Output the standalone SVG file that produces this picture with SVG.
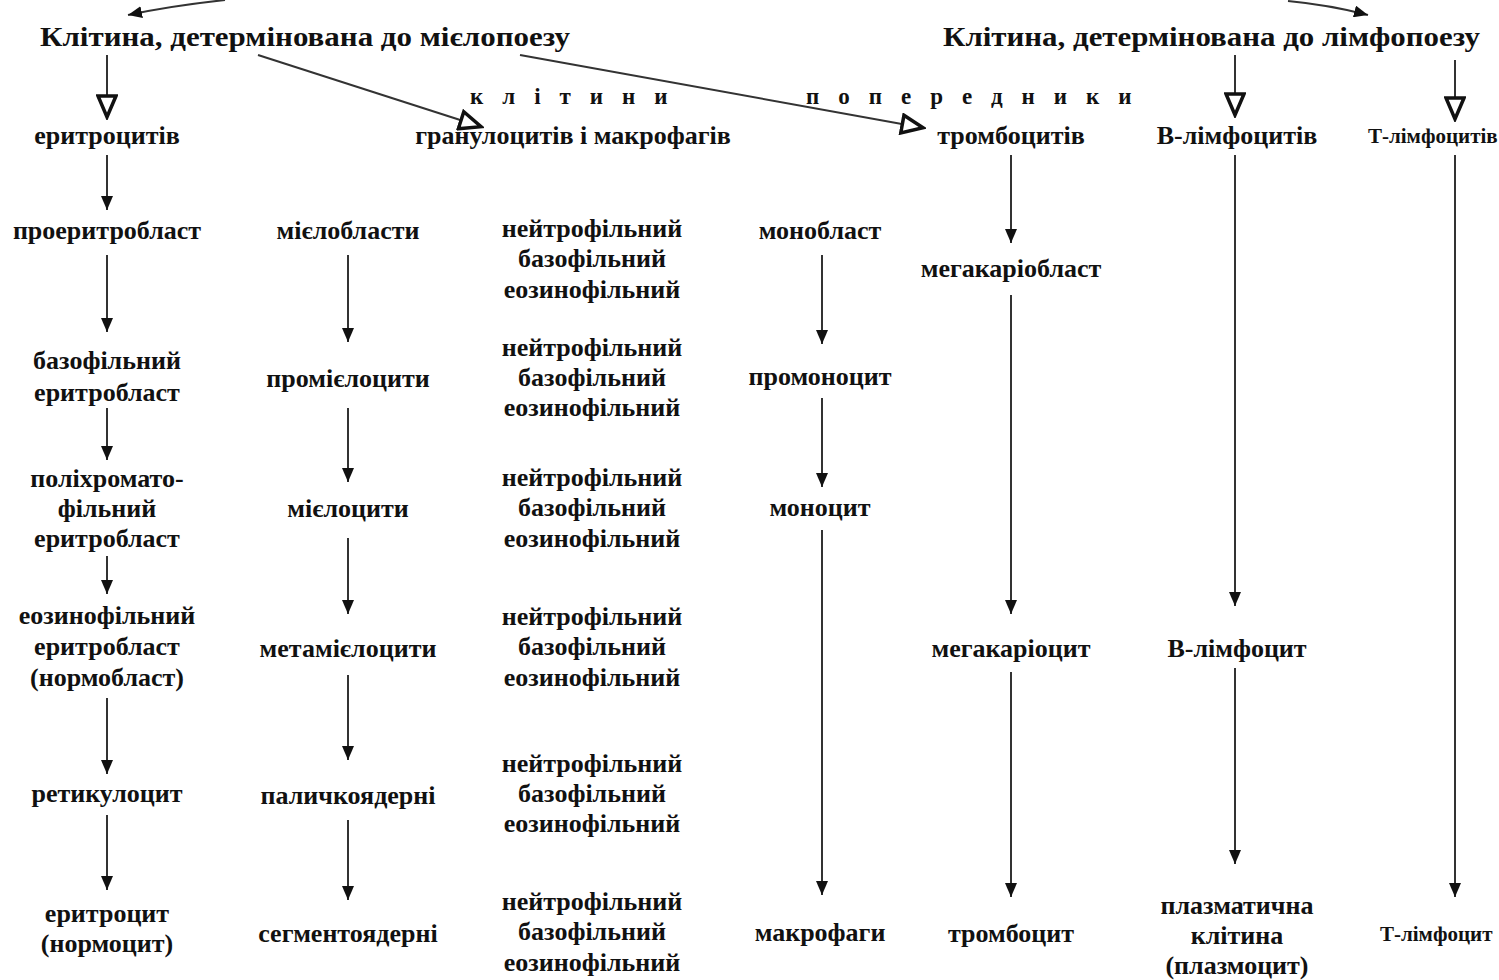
<svg xmlns="http://www.w3.org/2000/svg" width="1499" height="980" viewBox="0 0 1499 980">
<defs>
<style>
text{font-family:"Liberation Serif","DejaVu Serif",serif;font-weight:bold;fill:#111;text-anchor:middle;font-size:26px}
.title{font-size:27px;text-anchor:start}
.spaced{font-size:23px;text-anchor:start;letter-spacing:19px}
.edge{font-size:21px;text-anchor:start}
.c{stroke:#333;stroke-width:2;fill:none}
</style>
<marker id="ah" viewBox="0 0 14 12" refX="14" refY="6" markerWidth="14" markerHeight="12" markerUnits="userSpaceOnUse" orient="auto"><path d="M0,0 L14,6 L0,12 z" fill="#111"/></marker>
<marker id="hh" viewBox="0 0 26 22" refX="24" refY="11" markerWidth="26" markerHeight="22" markerUnits="userSpaceOnUse" orient="auto"><path d="M2,2 L23,11 L2,20 z" fill="#fff" stroke="#111" stroke-width="3.5" stroke-linejoin="miter"/></marker>
</defs>
<rect width="1499" height="980" fill="#fff"/>

<g id="connectors">
<path class="c" d="M225,0 Q170,6 128,15" marker-end="url(#ah)"/>
<path class="c" d="M1288,1 Q1330,5 1368,15" marker-end="url(#ah)"/>
<line class="c" x1="107" y1="55" x2="107" y2="118" marker-end="url(#hh)"/>
<line class="c" x1="258" y1="55" x2="482" y2="127" marker-end="url(#hh)"/>
<line class="c" x1="520" y1="55" x2="924" y2="128" marker-end="url(#hh)"/>
<line class="c" x1="1235" y1="55" x2="1235" y2="116" marker-end="url(#hh)"/>
<line class="c" x1="1455" y1="60" x2="1455" y2="120" marker-end="url(#hh)"/>
<line class="c" x1="107" y1="155" x2="107" y2="210" marker-end="url(#ah)"/>
<line class="c" x1="107" y1="255" x2="107" y2="332" marker-end="url(#ah)"/>
<line class="c" x1="107" y1="408" x2="107" y2="460" marker-end="url(#ah)"/>
<line class="c" x1="107" y1="556" x2="107" y2="594" marker-end="url(#ah)"/>
<line class="c" x1="107" y1="698" x2="107" y2="774" marker-end="url(#ah)"/>
<line class="c" x1="107" y1="815" x2="107" y2="890" marker-end="url(#ah)"/>
<line class="c" x1="348" y1="255" x2="348" y2="342" marker-end="url(#ah)"/>
<line class="c" x1="348" y1="408" x2="348" y2="482" marker-end="url(#ah)"/>
<line class="c" x1="348" y1="538" x2="348" y2="614" marker-end="url(#ah)"/>
<line class="c" x1="348" y1="675" x2="348" y2="760" marker-end="url(#ah)"/>
<line class="c" x1="348" y1="820" x2="348" y2="900" marker-end="url(#ah)"/>
<line class="c" x1="822" y1="255" x2="822" y2="344" marker-end="url(#ah)"/>
<line class="c" x1="822" y1="398" x2="822" y2="487" marker-end="url(#ah)"/>
<line class="c" x1="822" y1="530" x2="822" y2="895" marker-end="url(#ah)"/>
<line class="c" x1="1011" y1="155" x2="1011" y2="243" marker-end="url(#ah)"/>
<line class="c" x1="1011" y1="295" x2="1011" y2="614" marker-end="url(#ah)"/>
<line class="c" x1="1011" y1="672" x2="1011" y2="897" marker-end="url(#ah)"/>
<line class="c" x1="1235" y1="155" x2="1235" y2="606" marker-end="url(#ah)"/>
<line class="c" x1="1235" y1="668" x2="1235" y2="864" marker-end="url(#ah)"/>
<line class="c" x1="1455" y1="155" x2="1455" y2="897" marker-end="url(#ah)"/>
</g>

<g id="myelo-title"><text class="title" x="40" y="46" textLength="530" lengthAdjust="spacingAndGlyphs">Клітина, детермінована до мієлопоезу</text></g>
<g id="lympho-title"><text class="title" x="943" y="46" textLength="537" lengthAdjust="spacingAndGlyphs">Клітина, детермінована до лімфопоезу</text></g>
<g id="progenitor-label">
<text class="spaced" x="470" y="104">клітини</text>
<text class="spaced" x="806" y="104">попередники</text>
</g>

<g id="prog-ery"><text x="107" y="144">еритроцитів</text></g>
<g id="prog-gran"><text x="573" y="144">гранулоцитів і макрофагів</text></g>
<g id="prog-thr"><text x="1011" y="144">тромбоцитів</text></g>
<g id="prog-b"><text x="1237" y="144">В-лімфоцитів</text></g>
<g id="prog-t"><text class="edge" x="1368" y="143">Т-лімфоцитів</text></g>

<g id="proerythroblast"><text x="107" y="239">проеритробласт</text></g>
<g id="baso-erythroblast"><text x="107" y="369">базофільний</text><text x="107" y="401">еритробласт</text></g>
<g id="poly-erythroblast"><text x="107" y="487">поліхромато-</text><text x="107" y="517">фільний</text><text x="107" y="547">еритробласт</text></g>
<g id="oxy-erythroblast"><text x="107" y="624">еозинофільний</text><text x="107" y="655">еритробласт</text><text x="107" y="686">(нормобласт)</text></g>
<g id="reticulocyte"><text x="107" y="802">ретикулоцит</text></g>
<g id="erythrocyte"><text x="107" y="922">еритроцит</text><text x="107" y="952">(нормоцит)</text></g>

<g id="myeloblast"><text x="348" y="239">мієлобласти</text></g>
<g id="promyelocyte"><text x="348" y="387">промієлоцити</text></g>
<g id="myelocyte"><text x="348" y="517">мієлоцити</text></g>
<g id="metamyelocyte"><text x="348" y="657">метамієлоцити</text></g>
<g id="band"><text x="348" y="804">паличкоядерні</text></g>
<g id="segmented"><text x="348" y="942">сегментоядерні</text></g>

<g id="gran1"><text x="592" y="237">нейтрофільний</text><text x="592" y="267">базофільний</text><text x="592" y="298">еозинофільний</text></g>
<g id="gran2"><text x="592" y="356">нейтрофільний</text><text x="592" y="386">базофільний</text><text x="592" y="416">еозинофільний</text></g>
<g id="gran3"><text x="592" y="486">нейтрофільний</text><text x="592" y="516">базофільний</text><text x="592" y="547">еозинофільний</text></g>
<g id="gran4"><text x="592" y="625">нейтрофільний</text><text x="592" y="655">базофільний</text><text x="592" y="686">еозинофільний</text></g>
<g id="gran5"><text x="592" y="772">нейтрофільний</text><text x="592" y="802">базофільний</text><text x="592" y="832">еозинофільний</text></g>
<g id="gran6"><text x="592" y="910">нейтрофільний</text><text x="592" y="940">базофільний</text><text x="592" y="971">еозинофільний</text></g>

<g id="monoblast"><text x="820" y="239">монобласт</text></g>
<g id="promonocyte"><text x="820" y="385">промоноцит</text></g>
<g id="monocyte"><text x="820" y="516">моноцит</text></g>
<g id="macrophage"><text x="820" y="941">макрофаги</text></g>

<g id="megakaryoblast"><text x="1011" y="277">мегакаріобласт</text></g>
<g id="megakaryocyte"><text x="1011" y="657">мегакаріоцит</text></g>
<g id="thrombocyte"><text x="1011" y="942">тромбоцит</text></g>

<g id="b-lymphocyte"><text x="1237" y="657">В-лімфоцит</text></g>
<g id="plasma-cell"><text x="1237" y="914">плазматична</text><text x="1237" y="944">клітина</text><text x="1237" y="974">(плазмоцит)</text></g>

<g id="t-lymphocyte"><text class="edge" x="1380" y="941">Т-лімфоцит</text></g>
</svg>
